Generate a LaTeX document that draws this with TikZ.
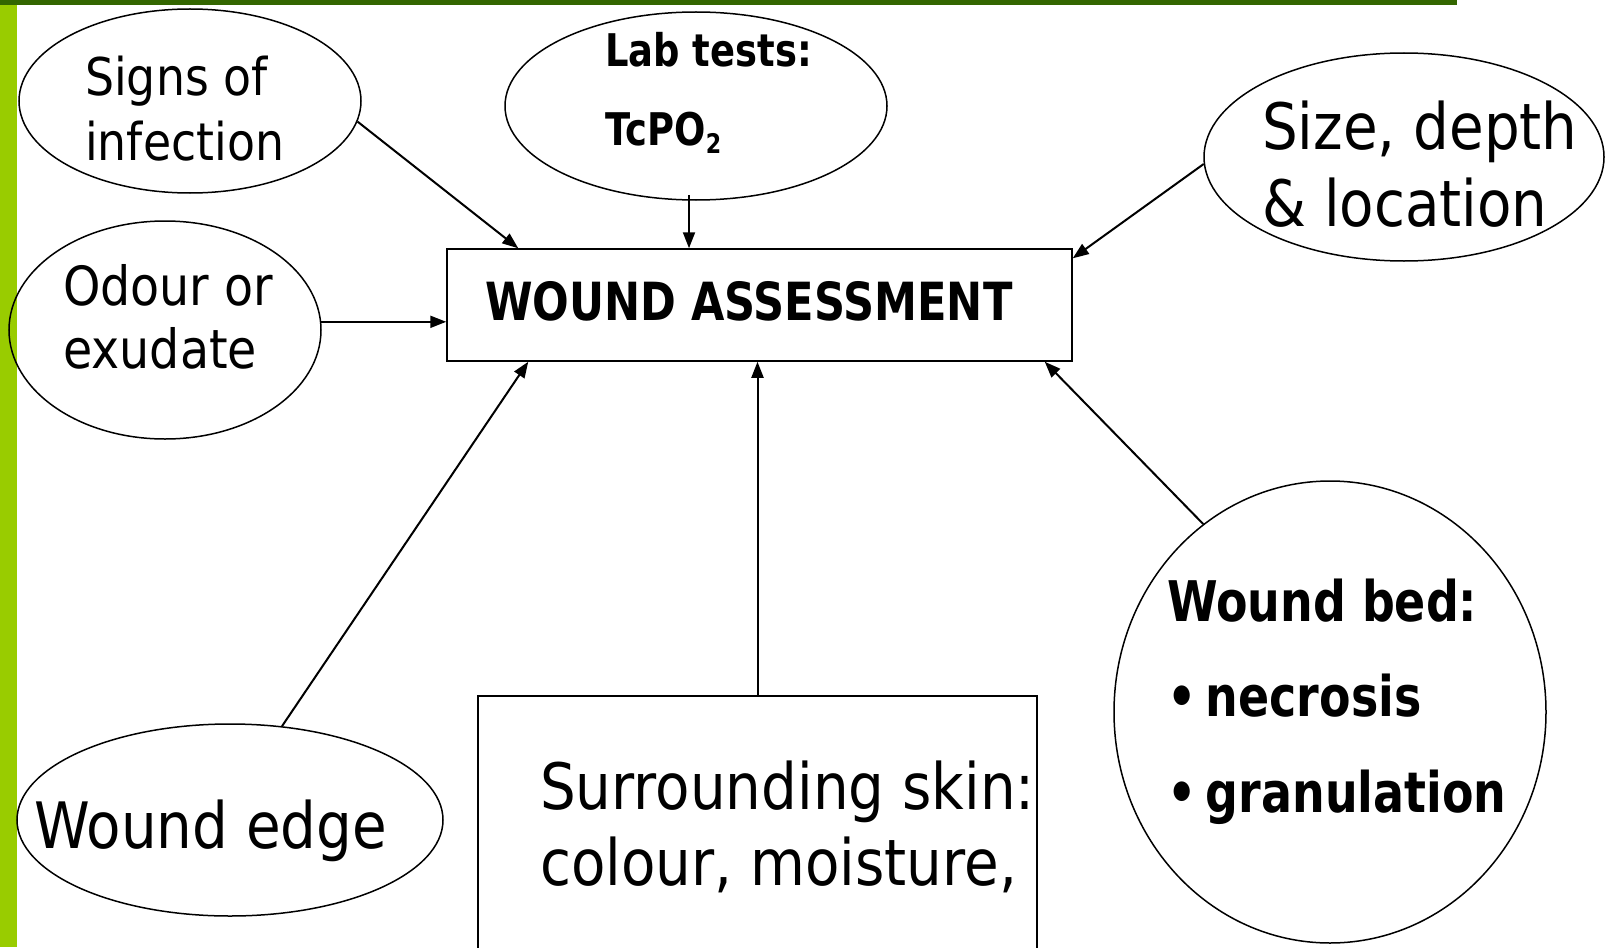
\documentclass[tikz,border=0pt]{standalone}
\usepackage{fontspec}
\setmainfont{DejaVu Sans}[FakeStretch=0.88]
\newfontfamily\boldf{DejaVu Sans Bold}[FakeStretch=0.82]
\usetikzlibrary{shapes.geometric,arrows.meta,calc}
\definecolor{darkgreen}{HTML}{336600}
\definecolor{lightgreen}{HTML}{99CC00}
\tikzset{
  oval/.style={ellipse,draw,line width=1.5pt,inner sep=0pt},
  boxnode/.style={rectangle,draw,line width=1.5pt,inner sep=0pt},
  txt/.style={anchor=base west,align=left,inner sep=0pt},
  conn/.style={line width=2pt,-{Triangle[length=16pt,width=12pt]}},
}
\begin{document}
\begin{tikzpicture}[x=1pt,y=-1pt]
\clip (0,0) rectangle (1605,947);
\fill[white] (0,0) rectangle (1605,947);
\fill[darkgreen] (0,0) rectangle (1457,5);
\fill[lightgreen] (0,5) rectangle (17,947);

\node[boxnode,minimum width=625pt,minimum height=112pt] (wa) at (759.5,305) {};
\node[txt,font=\boldf\fontsize{52.6}{60}\selectfont] (watxt) at (485,320) {WOUND ASSESSMENT};

\node[oval,minimum width=342pt,minimum height=184pt] (signs) at (190,101) {};
\node[txt,font=\fontsize{52}{65}\selectfont] (signstxt) at (85,160) {Signs of\\infection};

\node[oval,minimum width=382pt,minimum height=188pt] (lab) at (696,106) {};
\node[txt,font=\boldf\fontsize{45}{78}\selectfont] (labtxt) at (605,145) {Lab tests:\\TcPO\raisebox{-9pt}{\fontsize{27}{27}\selectfont 2}};
\coordinate (labout) at ($(lab.south)+(-7,-6)$);

\node[oval,minimum width=400pt,minimum height=208pt] (size) at (1404,157) {};
\node[txt,font=\fontsize{64}{77}\selectfont] (sizetxt) at (1262,226) {Size, depth\\\& location};

\node[oval,minimum width=312pt,minimum height=218pt] (odour) at (165,330) {};
\node[txt,font=\fontsize{54}{63}\selectfont] (odourtxt) at (63,368) {Odour or\\exudate};

\node[oval,minimum width=426pt,minimum height=192pt] (edge) at (230,820) {};
\node[txt,font=\fontsize{64}{76}\selectfont] (edgetxt) at (34,848) {Wound edge};

\node[boxnode,minimum width=559pt,minimum height=270pt] (skin) at (757.5,831) {};
\node[txt,font=\fontsize{64}{76}\selectfont] (skintxt) at (540,885) {Surrounding skin:\\colour, moisture,};

\node[oval,minimum width=432pt,minimum height=462pt] (bed) at (1330,712) {};
\node[txt,font=\boldf\fontsize{56}{95.5}\selectfont] (bedtxt) at (1167,812) {Wound bed:\\\textbullet\,necrosis\\\textbullet\,granulation};

\draw[conn] (signs.-7) -- ($(wa.north west)+(72,0)$);
\draw[conn] (labout) -- (labout |- wa.north);
\draw[conn] (size.182) -- ($(wa.north east)+(0,10)$);
\draw[conn] (odour.3) -- (odour.3 -| wa.west);
\draw[conn] (edge.61) -- ($(wa.south west)+(82,0)$);
\draw[conn] (skin.north) -- (skin.north |- wa.south);
\draw[conn] (bed.124) -- ($(wa.south east)+(-28,0)$);
\end{tikzpicture}
\end{document}
